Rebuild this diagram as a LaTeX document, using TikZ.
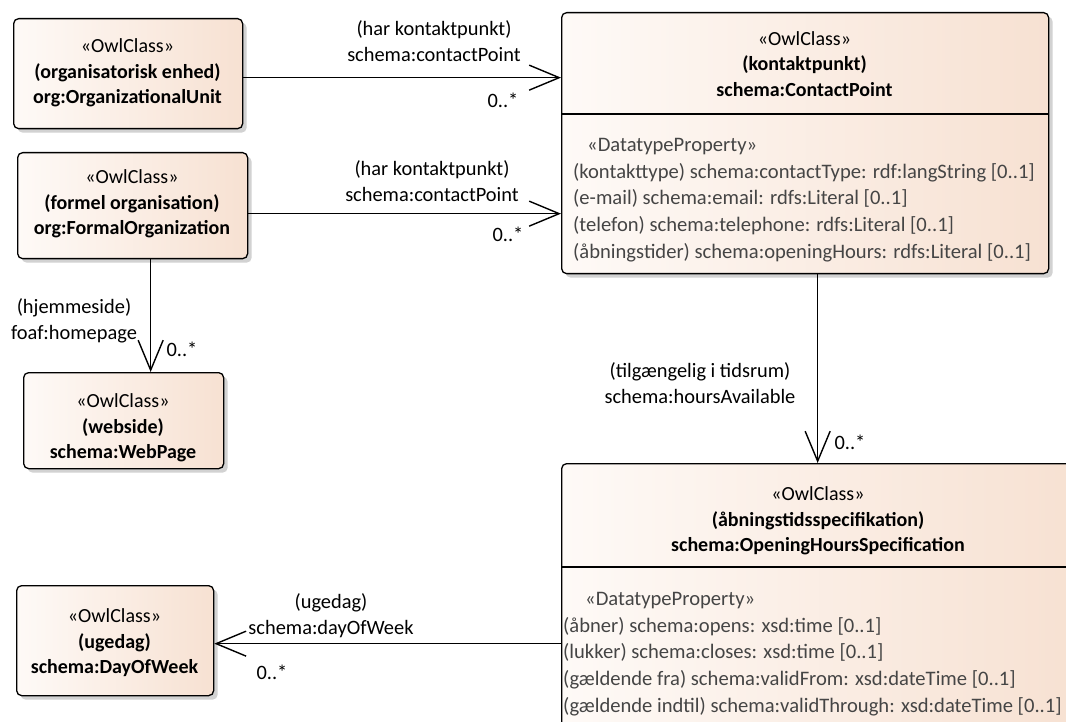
\documentclass[tikz,border=0pt]{standalone}
\usepackage{fontspec}
\setmainfont{Carlito}
\usetikzlibrary{arrows.meta,shadows}
\definecolor{boxL}{HTML}{FEFAF7}
\definecolor{boxR}{HTML}{F7E1D2}
\definecolor{attrc}{HTML}{454545}
\definecolor{shadowc}{HTML}{D2D2D2}
\newcommand\myfs{\fontsize{20}{25.5}\selectfont}
\newcommand\myfsl{\fontsize{20.4}{26}\selectfont}
\newcommand\myfsa{\fontsize{20.6}{26.6}\selectfont}
\begin{document}
\begin{tikzpicture}[x=1pt,y=-1pt,
  cls/.style={draw=black, line width=1.3pt, rounded corners=5pt, left color=boxL, right color=boxR,
    general shadow={fill=shadowc, shadow xshift=4pt, shadow yshift=-4pt},
    inner sep=0pt, anchor=north west},
  hdr/.style={align=center, font=\myfs, text=black, inner sep=0pt},
  attrs/.style={align=left, font=\myfsa, text=attrc, inner sep=0pt, anchor=west},
  lbl/.style={align=center, font=\myfsl, text=black, inner sep=0pt},
  mult/.style={font=\myfsl, text=black, inner sep=0pt},
  assoc/.style={line width=1.4pt, -{Straight Barb[length=30pt,width=25pt,line width=1.4pt]}},
  sep/.style={line width=1.3pt}]
\useasboundingbox (0,0) rectangle (1066,722);
\fill[white] (0,0) rectangle (1066,722);
\clip (0,0) rectangle (1066,722);

% class boxes
\node[cls, minimum width=229pt, minimum height=110pt] (ou) at (13,18) {};
\node[cls, minimum width=230pt, minimum height=106pt] (fo) at (17,152) {};
\node[cls, minimum width=200pt, minimum height=96pt] (wb) at (23,372) {};
\node[cls, minimum width=197pt, minimum height=110pt] (ug) at (16,585) {};
\node[cls, minimum width=487pt, minimum height=261pt] (kp) at (561,12) {};
\node[cls, minimum width=514pt, minimum height=320pt] (oh) at (561,463) {};

\draw[sep] (kp.west |- 0,114) -- (kp.east |- 0,114);
\draw[sep] (oh.west |- 0,567) -- (oh.east |- 0,567);

% class texts
\node[hdr] (ouT) at (127.5,73) {«OwlClass»\\\textbf{(organisatorisk enhed)}\\\textbf{org:OrganizationalUnit}};
\node[hdr] (foT) at (132,204) {«OwlClass»\\\textbf{(formel organisation)}\\\textbf{org:FormalOrganization}};
\node[hdr] (wbT) at (123,428) {«OwlClass»\\\textbf{(webside)}\\\textbf{schema:WebPage}};
\node[hdr] (ugT) at (114.5,643) {«OwlClass»\\\textbf{(ugedag)}\\\textbf{schema:DayOfWeek}};
\node[hdr] (kpT) at (804.5,64) {«OwlClass»\\\textbf{(kontaktpunkt)}\\\textbf{schema:ContactPoint}};
\node[hdr] (ohT) at (818,521) {«OwlClass»\\\textbf{(åbningstidsspecifikation)}\\\textbf{schema:OpeningHoursSpecification}};

\node[attrs] (kpA) at (573,200) {\hspace*{14pt}«DatatypeProperty»\\(kontakttype) schema:contactType: rdf:langString [0..1]\\(e-mail) schema:email: rdfs:Literal [0..1]\\(telefon) schema:telephone: rdfs:Literal [0..1]\\(åbningstider) schema:openingHours: rdfs:Literal [0..1]};
\node[attrs] (ohA) at (563,654) {\hspace*{22pt}«DatatypeProperty»\\(åbner) schema:opens: xsd:time [0..1]\\(lukker) schema:closes: xsd:time [0..1]\\(gældende fra) schema:validFrom: xsd:dateTime [0..1]\\(gældende indtil) schema:validThrough: xsd:dateTime [0..1]};

% connectors
\draw[assoc] ([yshift=-4pt]ou.east) -- ([yshift=-4pt]ou.east -| kp.west);
\draw[assoc] ([yshift=-8pt]fo.east) -- ([yshift=-8pt]fo.east -| kp.west);
\draw[assoc] ([xshift=18pt]fo.south) -- ([xshift=18pt]fo.south |- wb.north);
\draw[assoc] ([xshift=12.5pt]kp.south) -- ([xshift=12.5pt]kp.south |- oh.north);
\draw[assoc] ([yshift=-3pt]ug.east -| oh.west) -- ([yshift=-3pt]ug.east);

% connector labels
\node[lbl] (l1) at (434,41) {(har kontaktpunkt)\\schema:contactPoint};
\node[mult] (m1) at (503,100) {0..*};
\node[lbl] (l2) at (432,181) {(har kontaktpunkt)\\schema:contactPoint};
\node[mult] (m2) at (508,234) {0..*};
\node[lbl] (l3) at (74,321) {(hjemmeside)\\foaf:homepage};
\node[mult] (m3) at (182,349) {0..*};
\node[lbl] (l4) at (700,383) {(tilgængelig i tidsrum)\\schema:hoursAvailable};
\node[mult] (m4) at (850,442) {0..*};
\node[lbl] (l5) at (331,616) {(ugedag)\\schema:dayOfWeek};
\node[mult] (m5) at (272,672) {0..*};
\end{tikzpicture}
\end{document}
